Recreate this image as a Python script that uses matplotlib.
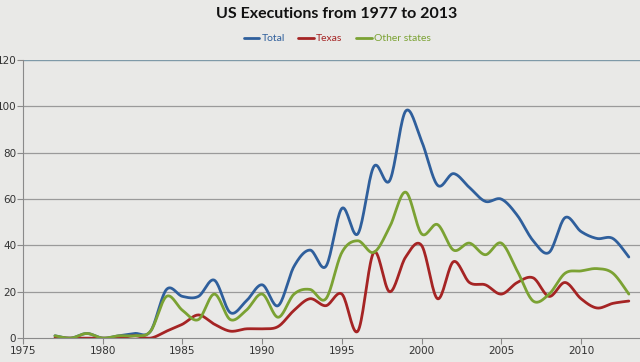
import matplotlib.pyplot as plt
import numpy as np

years = list(range(1977, 2014))
total = [1, 0, 2, 0, 1, 2, 3, 21, 18, 18, 25, 11, 16, 23, 14, 31, 38, 31, 56, 45,
         74, 68, 98, 85, 66, 71, 65, 59, 60, 53, 42, 37, 52, 46, 43, 43, 35]
texas = [0, 0, 0, 0, 0, 1, 0, 3, 6, 10, 6, 3, 4, 4, 5, 12, 17, 14, 19, 3,
         37, 20, 35, 40, 17, 33, 24, 23, 19, 24, 26, 18, 24, 17, 13, 15, 16]
other = [1, 0, 2, 0, 1, 1, 3, 18, 12, 8, 19, 8, 12, 19, 9, 19, 21, 17, 37, 42,
         37, 48, 63, 45, 49, 38, 41, 36, 41, 29, 16, 19, 28, 29, 30, 28, 19]

series_names = ["Total", "Texas", "Other states"]
series_colors = ["#2f5f9c", "#a52424", "#7ba233"]
bg = "#e9e9e7"


def smooth(x, y, n=20):
    # Excel-style smoothed line: bezier segments with catmull-rom handles
    x = np.asarray(x, float)
    y = np.asarray(y, float)
    px = np.concatenate([[x[0]], x, [x[-1]]])
    py = np.concatenate([[y[0]], y, [y[-1]]])
    t = np.linspace(0, 1, n)
    xs, ys = [], []
    for i in range(1, len(px) - 2):
        p0 = np.array([px[i - 1], py[i - 1]])
        p1 = np.array([px[i], py[i]])
        p2 = np.array([px[i + 1], py[i + 1]])
        p3 = np.array([px[i + 2], py[i + 2]])
        c1 = p1 + (p2 - p0) / 6
        c2 = p2 - (p3 - p1) / 6
        pts = ((1 - t) ** 3)[:, None] * p1 + (3 * (1 - t) ** 2 * t)[:, None] * c1 \
            + (3 * (1 - t) * t ** 2)[:, None] * c2 + (t ** 3)[:, None] * p2
        xs.extend(pts[:, 0])
        ys.extend(pts[:, 1])
    return xs, ys


fig = plt.figure(figsize=(6.4, 3.62), dpi=100, facecolor=bg)
ax = fig.add_axes([0.036, 0.066, 0.964, 0.768], facecolor=bg)

lines = []
for vals, name, col in zip([total, texas, other], series_names, series_colors):
    sx, sy = smooth(years, vals)
    ln, = ax.plot(sx, sy, color=col, lw=2.0, label=name, solid_capstyle="round")
    lines.append(ln)

ax.set_xlim(1975, 2013.7)
ax.set_ylim(0, 120)
ax.set_xticks(range(1975, 2011, 5))
ax.set_yticks(range(0, 121, 20))
for y in range(20, 101, 20):
    ax.axhline(y, color="#9a9a9a", lw=0.9, zorder=0)
ax.axhline(120, color="#7f9aa8", lw=1.0, zorder=0)

for s in ["top", "right"]:
    ax.spines[s].set_visible(False)
ax.spines["left"].set_color("#8a8a8a")
ax.spines["bottom"].set_color("#8a8a8a")
ax.tick_params(axis="both", colors="#8a8a8a", labelcolor="#333333", labelsize=7.5,
               length=4, width=0.8)
ax.tick_params(axis="y", pad=1)
ax.tick_params(axis="x", pad=2)

fig.text(0.526, 0.962, "US Executions from 1977 to 2013", ha="center", va="center",
         fontsize=11.5, fontweight="bold", family="Lato", color="#111111")

leg = fig.legend(handles=lines, loc="center", bbox_to_anchor=(0.527, 0.893),
                 ncol=3, frameon=False, handlelength=1.5,
                 handletextpad=0.2, columnspacing=1.3, prop={"family": "Lato", "size": 7.5})
for txt, col in zip(leg.get_texts(), series_colors):
    txt.set_color(col)

fig.savefig("out.png", dpi=100, facecolor=bg)
